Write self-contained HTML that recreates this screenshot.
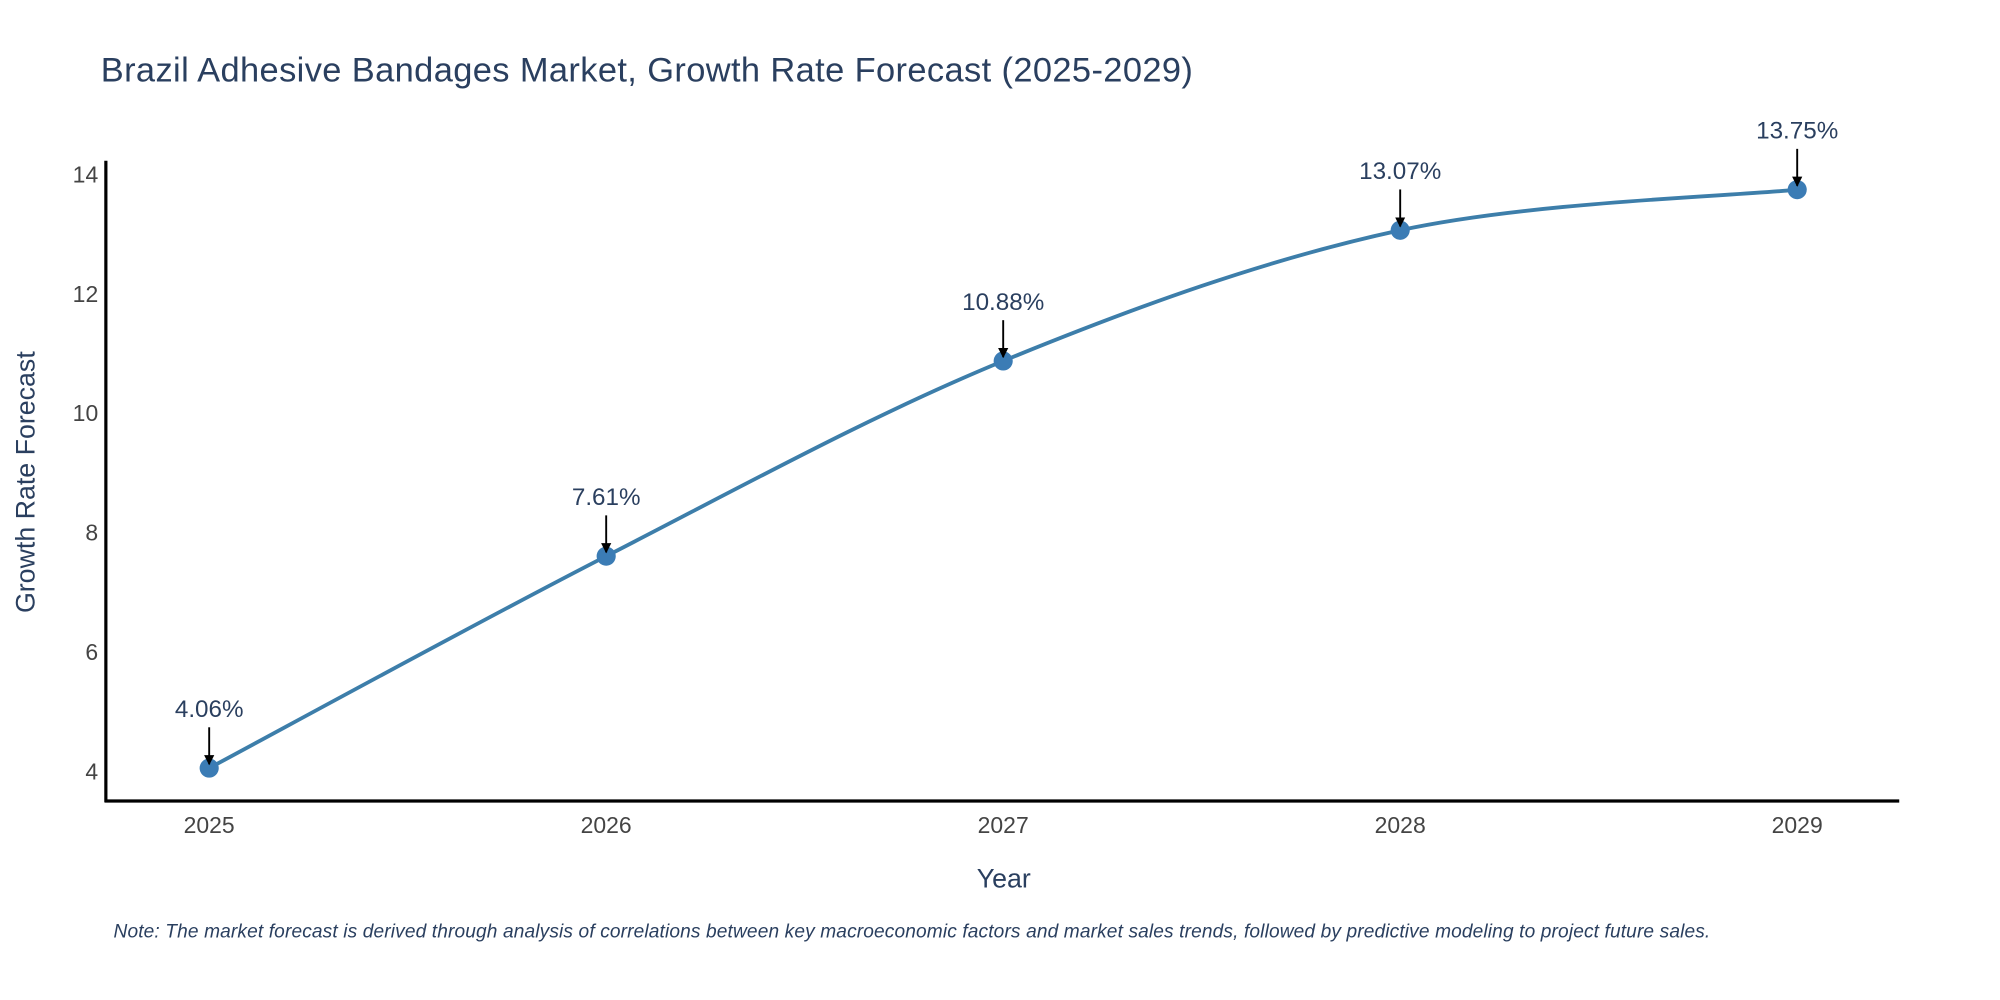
<!DOCTYPE html>
<html><head><meta charset="utf-8"><style>html,body{margin:0;padding:0;background:#fff}svg{display:block;font-family:"Liberation Sans",sans-serif}</style></head>
<body>
<svg id="chart" width="2000" height="1000" viewBox="0 0 1568 784" xmlns="http://www.w3.org/2000/svg">
<defs><marker id="ah" viewBox="0 0 10 10" refX="9" refY="5" markerWidth="8" markerHeight="8" markerUnits="userSpaceOnUse" orient="auto"><path d="M0,0L10,5L0,10z" fill="#000"/></marker></defs>
<text x="79" y="64" font-size="27" letter-spacing="0.3" fill="#2a3f5f">Brazil Adhesive Bandages Market, Growth Rate Forecast (2025-2029)</text>
<line x1="83" y1="126" x2="83" y2="629" stroke="#000" stroke-width="2.5"/>
<line x1="82" y1="628" x2="1489" y2="628" stroke="#000" stroke-width="2.5"/>
<text transform="translate(27,378) rotate(-90)" text-anchor="middle" font-size="21" fill="#2a3f5f">Growth Rate Forecast</text>
<text x="787" y="696" text-anchor="middle" font-size="21" fill="#2a3f5f">Year</text>
<text x="89" y="735" font-size="15" font-style="italic" letter-spacing="0.1" fill="#2a3f5f">Note: The market forecast is derived through analysis of correlations between key macroeconomic factors and market sales trends, followed by predictive modeling to project future sales.</text>
<g id="plot"></g>
</svg>
<script>
const years = [2025, 2026, 2027, 2028, 2029];
const values = [4.06, 7.61, 10.88, 13.07, 13.75];
const labels = ["4.06%", "7.61%", "10.88%", "13.07%", "13.75%"];
const yTicks = [4, 6, 8, 10, 12, 14];

const NS = "http://www.w3.org/2000/svg";
const svg = document.getElementById('chart');
const plot = document.getElementById('plot');
function xs(i){ return 164 + i * 311.25; }
function ys(v){ return 605 - (v - 4) * 46.8; }
function mk(tag, attrs, parent){ const e = document.createElementNS(NS, tag); for (const k in attrs) e.setAttribute(k, attrs[k]); parent.appendChild(e); return e; }

yTicks.forEach(t => {
  const e = mk('text', {x: 77, y: ys(t) + 6, 'text-anchor': 'end', 'font-size': 18, fill: '#444'}, svg);
  
  
  e.textContent = t;
});
years.forEach((y, i) => {
  const e = mk('text', {x: xs(i), y: 653, 'text-anchor': 'middle', 'font-size': 18, fill: '#444'}, svg);
  
  
  e.textContent = y;
});

const pts = values.map((v, i) => [xs(i), ys(v)]);
let d = `M${pts[0][0]},${pts[0][1]}`;
const tension = 0.5;
for (let i = 0; i < pts.length - 1; i++) {
  const p0 = pts[i - 1] || pts[i], p1 = pts[i], p2 = pts[i + 1], p3 = pts[i + 2] || p2;
  const c1 = [p1[0] + (p2[0] - p0[0]) * tension / 3, p1[1] + (p2[1] - p0[1]) * tension / 3];
  const c2 = [p2[0] - (p3[0] - p1[0]) * tension / 3, p2[1] - (p3[1] - p1[1]) * tension / 3];
  d += ` C${c1[0]},${c1[1]} ${c2[0]},${c2[1]} ${p2[0]},${p2[1]}`;
}
const line = mk('path', {d: d, fill: 'none', stroke: '#3d7eaa', 'stroke-width': 3}, plot);



pts.forEach((p, i) => {
  const c = mk('circle', {cx: p[0], cy: p[1], r: 7.5, fill: '#3b7cb5'}, plot);
  
  
  const a = mk('line', {x1: p[0], y1: p[1] - 32, x2: p[0], y2: p[1] - 3, stroke: '#000', 'stroke-width': 1.5, 'marker-end': 'url(#ah)'}, plot);
  
  
  const t = mk('text', {x: p[0], y: p[1] - 40, 'text-anchor': 'middle', 'font-size': 19, fill: '#2a3f5f'}, plot);
  
  
  t.textContent = labels[i];
});
</script>
</body></html>
